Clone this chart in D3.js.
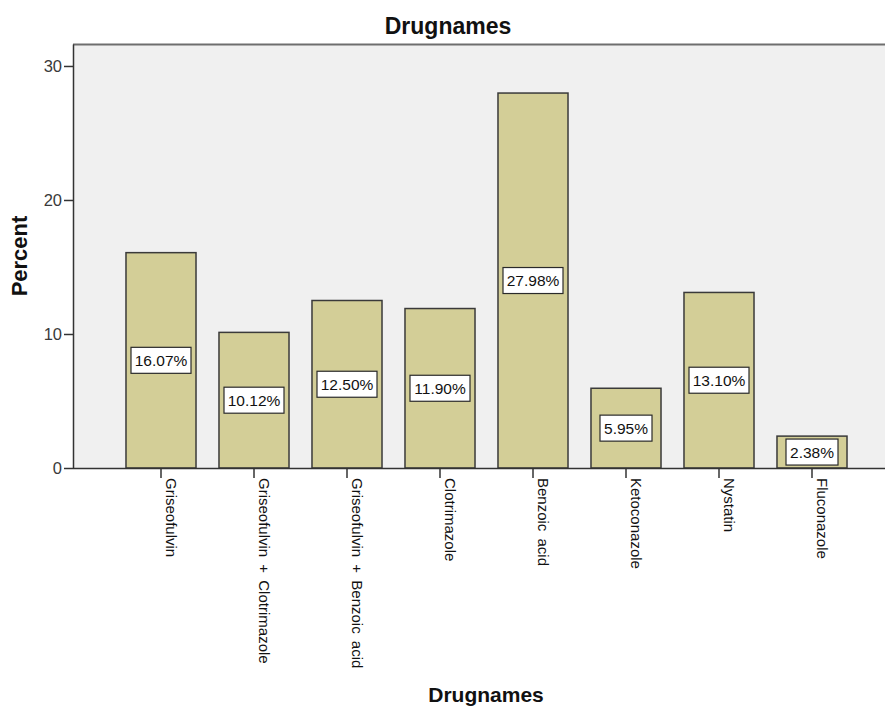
<!DOCTYPE html>
<html>
<head>
<meta charset="utf-8">
<script src="https://cdn.jsdelivr.net/npm/d3@7"></script>
<style>
  html, body { margin: 0; padding: 0; background: #fff; }
  svg { display: block; font-family: "Liberation Sans", Arial, sans-serif; }
</style>
</head>
<body>
<svg id="chart" width="885" height="708"></svg>
<script>
// Share of prescriptions by drug name
const drugNames = [
  "Griseofulvin",
  "Griseofulvin + Clotrimazole",
  "Griseofulvin + Benzoic acid",
  "Clotrimazole",
  "Benzoic acid",
  "Ketoconazole",
  "Nystatin",
  "Fluconazole"
];
const percentValues = [16.07, 10.12, 12.50, 11.90, 27.98, 5.95, 13.10, 2.38];
const yTickValues = [0, 10, 20, 30];

const svg = d3.select("#chart");
const plot = { left: 73, top: 44, right: 885, bottom: 468 };

const y = d3.scaleLinear()
  .domain([0, 31.64])
  .range([plot.bottom, plot.top]);

const inner = 0.247;
const x = d3.scaleBand()
  .domain(drugNames)
  .range([114.5, 858.5])
  .paddingInner(inner)
  .paddingOuter(inner / 2);

// plot background
svg.append("rect")
  .attr("x", plot.left).attr("y", plot.top)
  .attr("width", plot.right - plot.left).attr("height", plot.bottom - plot.top)
  .attr("fill", "#f0f0f0");

// top frame line
svg.append("line")
  .attr("x1", plot.left).attr("x2", plot.right)
  .attr("y1", plot.top + 0.5).attr("y2", plot.top + 0.5)
  .attr("stroke", "#6e6e6e").attr("stroke-width", 2);

// bars
svg.append("g").selectAll("rect")
  .data(drugNames)
  .join("rect")
  .attr("x", d => x(d))
  .attr("y", (d, i) => y(percentValues[i]))
  .attr("width", x.bandwidth())
  .attr("height", (d, i) => y(0) - y(percentValues[i]))
  .attr("fill", "#d3ce97")
  .attr("stroke", "#3a3a3a")
  .attr("stroke-width", 1.5);

// value labels in boxes at bar mid-height
const labels = svg.append("g").selectAll("g")
  .data(drugNames)
  .join("g")
  .attr("transform", (d, i) =>
    `translate(${x(d) + x.bandwidth() / 2},${(y(0) + y(percentValues[i])) / 2})`);

labels.append("rect")
  .attr("x", (d, i) => percentValues[i] < 10 ? -26 : -30)
  .attr("y", -13)
  .attr("width", (d, i) => percentValues[i] < 10 ? 52 : 60)
  .attr("height", 26)
  .attr("fill", "#fff")
  .attr("stroke", "#2a2a2a")
  .attr("stroke-width", 1.2);

labels.append("text")
  .attr("text-anchor", "middle")
  .attr("dy", "0.36em")
  .attr("font-size", 15.5)
  .attr("fill", "#111")
  .text((d, i) => percentValues[i].toFixed(2) + "%");

// y axis
const yAxis = svg.append("g")
  .attr("transform", `translate(${plot.left},0)`)
  .call(d3.axisLeft(y).tickValues(yTickValues).tickSize(9).tickPadding(2).tickSizeOuter(0));
yAxis.select(".domain").attr("stroke", "#333").attr("stroke-width", 1.5);
yAxis.selectAll(".tick line").attr("stroke", "#333").attr("stroke-width", 1.5);
yAxis.selectAll(".tick text")
  .attr("font-size", 16.5).attr("fill", "#3a3a3a")
  .attr("font-family", "Liberation Sans, Arial, sans-serif");

// x axis
const xAxis = svg.append("g")
  .attr("transform", `translate(0,${plot.bottom})`)
  .call(d3.axisBottom(x).tickSize(10).tickSizeOuter(0));
xAxis.select(".domain")
  .attr("d", `M${plot.left},0.5H${plot.right}`)
  .attr("stroke", "#333").attr("stroke-width", 1.5);
xAxis.selectAll(".tick line").attr("stroke", "#333").attr("stroke-width", 1.5);
xAxis.selectAll(".tick text")
  .attr("font-size", 15).attr("fill", "#111")
  .attr("font-family", "Liberation Sans, Arial, sans-serif")
  .attr("word-spacing", 3)
  .attr("text-anchor", "start")
  .attr("transform", "translate(0,8) rotate(90)")
  .attr("x", 2).attr("y", 0).attr("dy", "-0.35em");

// titles
svg.append("text")
  .attr("x", 448).attr("y", 34)
  .attr("text-anchor", "middle")
  .attr("font-size", 23).attr("font-weight", "bold").attr("fill", "#111")
  .text("Drugnames");

svg.append("text")
  .attr("x", 486).attr("y", 702)
  .attr("text-anchor", "middle")
  .attr("font-size", 21).attr("font-weight", "bold").attr("fill", "#111")
  .text("Drugnames");

svg.append("text")
  .attr("transform", `translate(27,${(plot.top + plot.bottom) / 2}) rotate(-90)`)
  .attr("text-anchor", "middle")
  .attr("font-size", 22).attr("font-weight", "bold").attr("fill", "#111")
  .text("Percent");
</script>
</body>
</html>
